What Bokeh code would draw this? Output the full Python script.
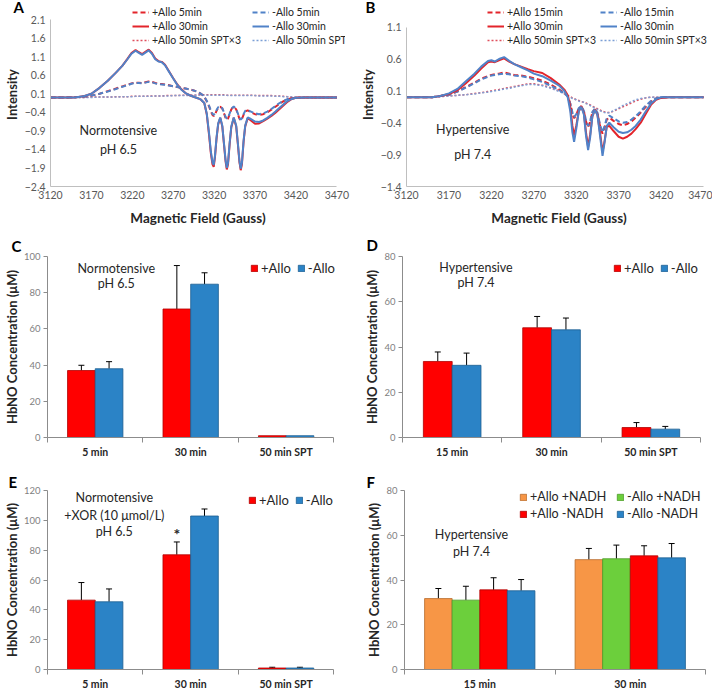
import math
from bokeh.plotting import figure
from bokeh.layouts import column, row
from bokeh.models import (Range1d, FixedTicker, Label, Legend, LegendItem,
                          Whisker, TeeHead, ColumnDataSource)
from bokeh.embed import file_html
from bokeh.resources import INLINE

FONT = "Lato"
TXT = "#262626"
TICK = "#595959"
AXIS = "#BFBFBF"
RED_LINE = "#E3242B"
BLUE_LINE = "#5082C8"

# ---------------- Panel A data (Normotensive, pH 6.5) ----------------
A_field = [3120, 3140, 3150, 3160, 3170, 3180, 3190, 3200, 3208, 3214,
           3219, 3224, 3228, 3232, 3236, 3240, 3244, 3248, 3252, 3256,
           3260, 3265, 3270, 3275, 3280, 3285, 3290, 3295, 3300, 3304,
           3308, 3311, 3314, 3316, 3318, 3319.5, 3321, 3323, 3325, 3327.5,
           3330, 3332, 3334, 3335.5, 3337, 3339, 3341, 3344, 3347, 3349,
           3351, 3352.5, 3354, 3356, 3358, 3361, 3365, 3370, 3375, 3380,
           3385, 3390, 3395, 3400, 3405, 3410, 3415, 3420, 3430, 3450, 3470]
A_plus_30 = [0.0, 0.0, 0.0, 0.03, 0.1, 0.26, 0.45, 0.67, 0.86, 1.04,
             1.2, 1.28, 1.22, 1.17, 1.23, 1.29, 1.2, 1.05, 0.98, 0.96,
             0.88, 0.7, 0.52, 0.35, 0.22, 0.12, 0.06, 0.02, -0.02, -0.06,
             -0.15, -0.45, -1.05, -1.5, -1.8, -1.87, -1.62, -1.1, -0.72, -0.55,
             -0.78, -1.25, -1.72, -1.94, -1.8, -1.25, -0.8, -0.55, -0.78, -1.25,
             -1.75, -1.96, -1.8, -1.2, -0.78, -0.56, -0.62, -0.71, -0.7, -0.64,
             -0.57, -0.5, -0.41, -0.31, -0.21, -0.11, -0.04, -0.01, 0.0, 0.0, 0.0]
A_minus_30 = [0.0, 0.0, 0.0, 0.03, 0.1, 0.26, 0.45, 0.67, 0.86, 1.03,
              1.18, 1.26, 1.2, 1.15, 1.21, 1.27, 1.18, 1.03, 0.97, 0.95,
              0.87, 0.69, 0.51, 0.34, 0.21, 0.12, 0.06, 0.02, -0.02, -0.06,
              -0.15, -0.43, -1.0, -1.45, -1.75, -1.82, -1.58, -1.07, -0.7, -0.54,
              -0.76, -1.22, -1.68, -1.9, -1.76, -1.22, -0.78, -0.54, -0.76, -1.22,
              -1.72, -1.92, -1.76, -1.17, -0.76, -0.54, -0.58, -0.65, -0.66, -0.62,
              -0.55, -0.47, -0.38, -0.28, -0.18, -0.09, -0.04, -0.01, 0.0, 0.0, 0.0]
A_plus_5 = [0.0, 0.0, 0.01, 0.02, 0.05, 0.1, 0.17, 0.24, 0.3, 0.34,
            0.38, 0.4, 0.4, 0.39, 0.41, 0.43, 0.42, 0.39, 0.37, 0.36,
            0.35, 0.33, 0.3, 0.28, 0.26, 0.24, 0.22, 0.19, 0.15, 0.1,
            0.02, -0.1, -0.25, -0.38, -0.47, -0.5, -0.46, -0.36, -0.28, -0.25,
            -0.3, -0.42, -0.55, -0.6, -0.57, -0.45, -0.32, -0.25, -0.32, -0.45,
            -0.57, -0.62, -0.58, -0.47, -0.38, -0.35, -0.4, -0.45, -0.47, -0.45,
            -0.4, -0.33, -0.25, -0.17, -0.1, -0.05, -0.02, -0.01, 0.0, 0.0, 0.0]
A_minus_5 = [0.0, 0.0, 0.01, 0.02, 0.05, 0.1, 0.16, 0.23, 0.29, 0.33,
             0.37, 0.39, 0.39, 0.38, 0.4, 0.42, 0.41, 0.38, 0.36, 0.35,
             0.34, 0.32, 0.3, 0.28, 0.26, 0.24, 0.22, 0.19, 0.15, 0.1,
             0.02, -0.09, -0.23, -0.35, -0.44, -0.47, -0.43, -0.34, -0.26, -0.24,
             -0.29, -0.4, -0.52, -0.57, -0.54, -0.43, -0.31, -0.24, -0.31, -0.43,
             -0.55, -0.6, -0.56, -0.45, -0.36, -0.34, -0.38, -0.43, -0.45, -0.43,
             -0.38, -0.31, -0.23, -0.15, -0.09, -0.04, -0.02, -0.01, 0.0, 0.0, 0.0]
A_plus_50spt = [0.0, 0.0, 0.0, 0.0, 0.01, 0.01, 0.01, 0.02, 0.02, 0.02,
                0.03, 0.03, 0.03, 0.03, 0.03, 0.04, 0.04, 0.04, 0.04, 0.04,
                0.05, 0.05, 0.05, 0.05, 0.06, 0.06, 0.06, 0.06, 0.07, 0.07,
                0.07, 0.07, 0.07, 0.07, 0.07, 0.07, 0.07, 0.07, 0.07, 0.07,
                0.07, 0.07, 0.06, 0.06, 0.06, 0.06, 0.06, 0.06, 0.06, 0.06,
                0.06, 0.06, 0.06, 0.06, 0.06, 0.06, 0.06, 0.05, 0.05, 0.05,
                0.05, 0.05, 0.04, 0.04, 0.03, 0.02, 0.01, 0.0, 0.0, 0.0, 0.0]
A_minus_50spt = [0.0, 0.0, 0.0, 0.0, 0.0, 0.01, 0.01, 0.01, 0.02, 0.02,
                 0.02, 0.03, 0.03, 0.03, 0.03, 0.03, 0.03, 0.04, 0.04, 0.04,
                 0.04, 0.04, 0.05, 0.05, 0.05, 0.05, 0.05, 0.06, 0.06, 0.06,
                 0.06, 0.06, 0.06, 0.06, 0.06, 0.06, 0.06, 0.06, 0.06, 0.06,
                 0.06, 0.06, 0.06, 0.06, 0.05, 0.05, 0.05, 0.05, 0.05, 0.05,
                 0.05, 0.05, 0.05, 0.05, 0.05, 0.05, 0.05, 0.05, 0.04, 0.04,
                 0.04, 0.04, 0.03, 0.03, 0.02, 0.02, 0.01, 0.0, 0.0, 0.0, 0.0]
A_xticks = [3120, 3170, 3220, 3270, 3320, 3370, 3420, 3470]
A_yticks = [-2.4, -1.9, -1.4, -0.9, -0.4, 0.1, 0.6, 1.1, 1.6, 2.1]
A_labels_plus = ["+Allo 5min", "+Allo 30min", "+Allo 50min SPT\u00d73"]
A_labels_minus = ["-Allo 5min", "-Allo 30min", "-Allo 50min SPT\u00d73"]

# ---------------- Panel B data (Hypertensive, pH 7.4) ----------------
B_field = [3120, 3140, 3150, 3160, 3170, 3180, 3190, 3200, 3208, 3216,
           3220, 3224, 3229, 3235, 3241, 3247, 3255, 3263, 3270, 3280,
           3290, 3300, 3306, 3310, 3313, 3315.5, 3317.5, 3320, 3323, 3326,
           3329, 3331.5, 3334, 3336.5, 3339, 3342, 3345, 3348, 3351, 3353.5,
           3356, 3359, 3364, 3370, 3375, 3380, 3385, 3390, 3396, 3402,
           3408, 3414, 3420, 3430, 3450, 3470]
B_plus_30 = [0.0, 0.0, 0.0, 0.02, 0.05, 0.11, 0.22, 0.34, 0.45, 0.55,
             0.56, 0.55, 0.58, 0.61, 0.56, 0.52, 0.48, 0.44, 0.41, 0.38,
             0.3, 0.2, 0.12, 0.03, -0.15, -0.45, -0.6, -0.45, -0.22, -0.15,
             -0.25, -0.55, -0.78, -0.58, -0.3, -0.2, -0.27, -0.55, -0.86, -0.68,
             -0.46, -0.45, -0.53, -0.62, -0.65, -0.62, -0.57, -0.5, -0.4, -0.26,
             -0.12, -0.04, -0.01, 0.0, 0.0, 0.0]
B_minus_30 = [0.0, 0.0, 0.0, 0.02, 0.06, 0.13, 0.25, 0.37, 0.48, 0.57,
              0.58, 0.56, 0.6, 0.63, 0.57, 0.52, 0.47, 0.42, 0.37, 0.33,
              0.26, 0.18, 0.1, 0.0, -0.22, -0.55, -0.7, -0.5, -0.22, -0.15,
              -0.27, -0.6, -0.83, -0.62, -0.3, -0.2, -0.28, -0.6, -0.92, -0.7,
              -0.45, -0.4, -0.47, -0.54, -0.56, -0.55, -0.51, -0.45, -0.35, -0.22,
              -0.1, -0.03, 0.0, 0.0, 0.0, 0.0]
B_plus_15 = [0.0, 0.0, 0.0, 0.02, 0.04, 0.09, 0.16, 0.23, 0.29, 0.33,
             0.35, 0.36, 0.37, 0.39, 0.37, 0.35, 0.34, 0.32, 0.3, 0.26,
             0.2, 0.12, 0.07, 0.02, -0.1, -0.25, -0.33, -0.28, -0.17, -0.14,
             -0.22, -0.38, -0.47, -0.38, -0.24, -0.19, -0.25, -0.45, -0.57, -0.47,
             -0.35, -0.32, -0.37, -0.42, -0.44, -0.42, -0.38, -0.32, -0.24, -0.15,
             -0.07, -0.02, 0.0, 0.0, 0.0, 0.0]
B_minus_15 = [0.0, 0.0, 0.0, 0.02, 0.04, 0.09, 0.15, 0.22, 0.28, 0.32,
              0.34, 0.35, 0.36, 0.37, 0.36, 0.34, 0.33, 0.31, 0.28, 0.24,
              0.18, 0.11, 0.06, 0.01, -0.1, -0.24, -0.31, -0.27, -0.17, -0.14,
              -0.21, -0.36, -0.45, -0.37, -0.23, -0.18, -0.24, -0.43, -0.55, -0.45,
              -0.33, -0.29, -0.33, -0.38, -0.4, -0.39, -0.35, -0.3, -0.22, -0.13,
              -0.06, -0.02, 0.0, 0.0, 0.0, 0.0]
B_plus_50spt = [0.0, 0.0, 0.0, 0.01, 0.02, 0.03, 0.04, 0.06, 0.07, 0.09,
                0.1, 0.11, 0.12, 0.14, 0.15, 0.17, 0.19, 0.21, 0.21, 0.19,
                0.15, 0.1, 0.06, 0.03, 0.01, -0.01, -0.02, -0.04, -0.05, -0.07,
                -0.08, -0.09, -0.11, -0.12, -0.14, -0.16, -0.18, -0.2, -0.22, -0.23,
                -0.24, -0.24, -0.22, -0.18, -0.15, -0.12, -0.09, -0.06, -0.03, -0.01,
                0.0, 0.0, 0.0, 0.0, 0.0, 0.0]
B_minus_50spt = [0.0, 0.0, 0.0, 0.01, 0.02, 0.03, 0.04, 0.05, 0.07, 0.08,
                 0.09, 0.1, 0.11, 0.13, 0.14, 0.16, 0.18, 0.2, 0.2, 0.18,
                 0.14, 0.09, 0.05, 0.02, 0.0, -0.02, -0.03, -0.04, -0.06, -0.07,
                 -0.08, -0.1, -0.11, -0.13, -0.15, -0.17, -0.19, -0.21, -0.23, -0.24,
                 -0.25, -0.24, -0.21, -0.17, -0.13, -0.1, -0.07, -0.04, -0.02, -0.01,
                 0.0, 0.0, 0.0, 0.0, 0.0, 0.0]
B_xticks = [3120, 3170, 3220, 3270, 3320, 3370, 3420, 3470]
B_yticks = [-1.4, -0.9, -0.4, 0.1, 0.6, 1.1]
B_labels_plus = ["+Allo 15min", "+Allo 30min", "+Allo 50min SPT\u00d73"]
B_labels_minus = ["-Allo 15min", "-Allo 30min", "-Allo 50min SPT\u00d73"]

# ---------------- Bar panel data ----------------
C_cats = ["5 min", "30 min", "50 min SPT"]
C_plus = [37.0, 71.0, 1.0]
C_plus_err = [2.9, 24.0, 0.0]
C_minus = [38.0, 84.7, 1.0]
C_minus_err = [3.9, 6.3, 0.0]
C_yticks = [0, 20, 40, 60, 80, 100]

D_cats = ["15 min", "30 min", "50 min SPT"]
D_plus = [33.6, 48.5, 4.4]
D_plus_err = [4.2, 5.0, 2.2]
D_minus = [31.9, 47.6, 3.7]
D_minus_err = [5.4, 5.2, 1.2]
D_yticks = [0, 20, 40, 60, 80]

E_cats = ["5 min", "30 min", "50 min SPT"]
E_plus = [46.5, 76.9, 1.0]
E_plus_err = [11.8, 8.6, 0.5]
E_minus = [45.4, 102.9, 1.0]
E_minus_err = [8.6, 4.7, 0.5]
E_yticks = [0, 20, 40, 60, 80, 100, 120]

F_cats = ["15 min", "30 min"]
F_plus_nadh = [31.7, 49.1]
F_plus_nadh_err = [4.5, 5.0]
F_minus_nadh_plus = [31.0, 49.5]
F_minus_nadh_plus_err = [6.2, 6.1]
F_plus_no_nadh = [35.6, 50.8]
F_plus_no_nadh_err = [5.4, 4.5]
F_minus_no_nadh = [35.2, 49.9]
F_minus_no_nadh_err = [5.0, 6.4]
F_yticks = [0, 20, 40, 60, 80]
F_names = ["+Allo +NADH", "-Allo +NADH", "+Allo -NADH", "-Allo -NADH"]


def base_fig(w, h, xr, yr, ml, mr, mt, mb, letter, offset, standoff):
    p = figure(width=w, height=h, x_range=xr, y_range=yr, title=letter,
               output_backend="svg", toolbar_location=None,
               min_border_left=ml, min_border_right=mr,
               min_border_top=mt, min_border_bottom=mb)
    p.outline_line_color = None
    p.xgrid.visible = False
    p.ygrid.visible = False
    p.background_fill_color = "white"
    p.border_fill_color = "white"
    p.title.align = "left"
    p.title.offset = offset
    p.title.standoff = standoff
    p.title.text_font = FONT
    p.title.text_font_size = "15px"
    p.title.text_font_style = "bold"
    p.title.text_color = "black"
    for ax in (p.xaxis[0], p.yaxis[0]):
        ax.axis_line_color = AXIS
        ax.major_tick_line_color = AXIS
        ax.minor_tick_line_color = AXIS
        ax.major_tick_out = 0
        ax.major_tick_in = 0
        ax.minor_tick_out = 0
        ax.minor_tick_in = 0
        ax.major_label_text_font = FONT
        ax.major_label_text_color = TICK
        ax.major_label_text_font_size = "10.5px"
        ax.major_label_standoff = 4
        ax.axis_label_text_font = FONT
        ax.axis_label_text_font_style = "bold"
        ax.axis_label_text_color = TXT
    return p


def add_text(p, text, x, y, size="12px", bold=False, color=TXT):
    p.add_layout(Label(x=x, y=y, text=text, text_font=FONT, text_font_size=size,
                       text_font_style="bold" if bold else "normal",
                       text_align="center", text_baseline="middle",
                       text_color=color))


def make_legend(items, loc, orientation="vertical", gw=17, gh=12, size="10.5px",
                lh=13, spacing=1, standoff=3):
    return Legend(items=items, location=loc, orientation=orientation,
                  glyph_width=gw, glyph_height=gh, label_height=lh,
                  spacing=spacing, padding=0, margin=0,
                  label_standoff=standoff, label_text_font=FONT,
                  label_text_font_size=size, label_text_color=TXT,
                  border_line_color=None, background_fill_alpha=0)


def spectrum(w, field, curves, labels_plus, labels_minus, xr, yr, ybounds,
             xticks, yticks, ml, mr, letter, offset, leg_x1, leg_x2, notes):
    p = base_fig(w, 230, Range1d(*xr), Range1d(*yr), ml, mr, 2, 44,
                 letter, offset, -26)
    p.xaxis.ticker = FixedTicker(ticks=xticks)
    p.xaxis.bounds = (xticks[0], xticks[-1])
    p.yaxis.ticker = FixedTicker(ticks=yticks)
    p.yaxis.bounds = ybounds
    p.yaxis.major_label_standoff = 5
    p.xaxis.axis_label = "Magnetic Field (Gauss)"
    p.xaxis.axis_label_text_font_size = "13.5px"
    p.xaxis.axis_label_standoff = 8
    p.yaxis.axis_label = "Intensity"
    p.yaxis.axis_label_text_font_size = "13px"
    p.yaxis.axis_label_standoff = 2
    pe, me, p30, m30, pspt, mspt = curves
    r_pspt = p.line(field, pspt, line_color="#E0505E", line_width=1.5, line_dash="2 2")
    r_mspt = p.line(field, mspt, line_color="#7C9FD6", line_width=1.5, line_dash="2 2")
    r_pe = p.line(field, pe, line_color=RED_LINE, line_width=2, line_dash="5 3")
    r_me = p.line(field, me, line_color=BLUE_LINE, line_width=2, line_dash="5 3")
    r_p30 = p.line(field, p30, line_color=RED_LINE, line_width=2)
    r_m30 = p.line(field, m30, line_color=BLUE_LINE, line_width=2)
    l1 = make_legend([LegendItem(label=labels_plus[0], renderers=[r_pe]),
                      LegendItem(label=labels_plus[1], renderers=[r_p30]),
                      LegendItem(label=labels_plus[2], renderers=[r_pspt])],
                     (leg_x1, 140))
    l2 = make_legend([LegendItem(label=labels_minus[0], renderers=[r_me]),
                      LegendItem(label=labels_minus[1], renderers=[r_m30]),
                      LegendItem(label=labels_minus[2], renderers=[r_mspt])],
                     (leg_x2, 140))
    p.add_layout(l1)
    p.add_layout(l2)
    for t, x, y in notes:
        add_text(p, t, x, y, size="12.5px")
    return p


def bar_panel(w, h, cats, series, errs, names, fills, edges, bw, offsets,
              xend, ytop, ymax, yticks, ml, mr, mt, mb, letter, offset, standoff,
              legends, notes):
    n = len(cats)
    p = base_fig(w, h, Range1d(0, xend), Range1d(0, ytop), ml, mr, mt, mb,
                 letter, offset, standoff)
    centers = [i + 0.5 for i in range(n)]
    p.xaxis.ticker = FixedTicker(ticks=centers, minor_ticks=list(range(n + 1)))
    p.xaxis.bounds = (0, n)
    p.xaxis.major_label_overrides = {c: s for c, s in zip(centers, cats)}
    p.xaxis.minor_tick_out = 5
    p.xaxis.axis_line_color = "#8C8C8C"
    p.xaxis.minor_tick_line_color = "#8C8C8C"
    p.xaxis.major_label_text_font_style = "bold"
    p.xaxis.major_label_text_color = TXT
    p.xaxis.major_label_text_font_size = "10.5px"
    p.xaxis.major_label_standoff = 3
    p.yaxis.ticker = FixedTicker(ticks=yticks)
    p.yaxis.bounds = (0, ymax)
    p.yaxis.major_tick_out = 4
    p.yaxis.axis_line_color = "#8C8C8C"
    p.yaxis.major_tick_line_color = "#8C8C8C"
    p.yaxis.major_label_text_font_size = "9.5px"
    p.yaxis.major_label_text_color = "#7F7F7F"
    p.yaxis.major_label_standoff = 3
    p.yaxis.axis_label = "HbNO Concentration (\u03bcM)"
    p.yaxis.axis_label_text_font_size = "13px"
    p.yaxis.axis_label_standoff = 1
    rends = []
    for vals, er, fc, lc, off in zip(series, errs, fills, edges, offsets):
        xs = [c + off for c in centers]
        src = ColumnDataSource(dict(x=xs, top=vals))
        r = p.vbar(x="x", top="top", bottom=0, width=bw, source=src,
                   fill_color=fc, line_color=lc, line_width=0.8)
        rends.append(r)
        wx = [x for x, e in zip(xs, er) if e > 0]
        wl = [v for v, e in zip(vals, er) if e > 0]
        wu = [v + e for v, e in zip(vals, er) if e > 0]
        wsrc = ColumnDataSource(dict(x=wx, lower=wl, upper=wu))
        p.add_layout(Whisker(source=wsrc, base="x", lower="lower", upper="upper",
                             dimension="height", line_color="black", line_width=1,
                             upper_head=TeeHead(size=6, line_color="black", line_width=1),
                             lower_head=None))
    for idxs, loc, orient, size in legends:
        items = [LegendItem(label=names[i], renderers=[rends[i]]) for i in idxs]
        p.add_layout(make_legend(items, loc, orientation=orient, gw=8, gh=8,
                                 size=size, lh=14,
                                 spacing=6 if orient == "horizontal" else 2,
                                 standoff=3))
    for t, x, y, sz, bold in notes:
        add_text(p, t, x, y, size=sz, bold=bold)
    return p


pA = spectrum(356, A_field,
              (A_plus_5, A_minus_5, A_plus_30, A_minus_30, A_plus_50spt, A_minus_50spt),
              A_labels_plus, A_labels_minus, (3120, 3480.6), (-2.4, 2.56), (-2.4, 2.1),
              A_xticks, A_yticks, 40, 11, "A", -37, 82, 202,
              [("Normotensive", 3203, -0.88), ("pH 6.5", 3203, -1.39)])

pB = spectrum(356, B_field,
              (B_plus_15, B_minus_15, B_plus_30, B_minus_30, B_plus_50spt, B_minus_50spt),
              B_labels_plus, B_labels_minus, (3120, 3479.4), (-1.4, 1.486), (-1.4, 1.1),
              B_xticks, B_yticks, 49, 1, "B", -41, 81, 194,
              [("Hypertensive", 3198, -0.5), ("pH 7.4", 3198, -0.9)])

RED_BAR, RED_EDGE = "#FF0000", "#B00000"
BLUE_BAR, BLUE_EDGE = "#2B83C6", "#1D5E90"
ORANGE_BAR, ORANGE_EDGE = "#F79646", "#B86B2C"
GREEN_BAR, GREEN_EDGE = "#6CCF3C", "#4C9A28"

pC = bar_panel(356, 230, C_cats, [C_plus, C_minus], [C_plus_err, C_minus_err],
               ["+Allo", "-Allo"], [RED_BAR, BLUE_BAR], [RED_EDGE, BLUE_EDGE],
               0.29, [-0.145, 0.145], 3.174, 100, 100, C_yticks, 39, 6, 26, 18,
               "C", -36, 3,
               [([0, 1], (203, 161), "horizontal", "13px")],
               [("Normotensive", 0.72, 93.5, "12.5px", False),
                ("pH 6.5", 0.72, 84.9, "12.5px", False)])

pD = bar_panel(356, 230, D_cats, [D_plus, D_minus], [D_plus_err, D_minus_err],
               ["+Allo", "-Allo"], [RED_BAR, BLUE_BAR], [RED_EDGE, BLUE_EDGE],
               0.29, [-0.145, 0.145], 3.1, 80, 80, D_yticks, 46, 2, 26, 18,
               "D", -36, 5,
               [([0, 1], (211, 161), "horizontal", "13px")],
               [("Hypertensive", 0.74, 75.3, "12.5px", False),
                ("pH 7.4", 0.74, 68.4, "12.5px", False)])

pE = bar_panel(356, 232, E_cats, [E_plus, E_minus], [E_plus_err, E_minus_err],
               ["+Allo", "-Allo"], [RED_BAR, BLUE_BAR], [RED_EDGE, BLUE_EDGE],
               0.29, [-0.145, 0.145], 3.175, 120, 120, E_yticks, 42, 6, 30, 19,
               "E", -39, 0,
               [([0, 1], (201, 161), "horizontal", "13px")],
               [("Normotensive", 0.70, 115, "12.5px", False),
                ("+XOR (10 \u03bcmol/L)", 0.70, 103.5, "12.5px", False),
                ("pH 6.5", 0.70, 92.5, "12.5px", False),
                ("*", 1.355, 91.5, "16px", True)])

pF = bar_panel(356, 232, F_cats,
               [F_plus_nadh, F_minus_nadh_plus, F_plus_no_nadh, F_minus_no_nadh],
               [F_plus_nadh_err, F_minus_nadh_plus_err, F_plus_no_nadh_err, F_minus_no_nadh_err],
               F_names, [ORANGE_BAR, GREEN_BAR, RED_BAR, BLUE_BAR],
               [ORANGE_EDGE, GREEN_EDGE, RED_EDGE, BLUE_EDGE],
               0.183, [-0.275, -0.092, 0.092, 0.275], 2, 80, 80, F_yticks, 48, 7, 30, 19,
               "F", -38, 0,
               [([0, 2], (115, 148), "vertical", "12.5px"),
                ([1, 3], (212, 148), "vertical", "12.5px")],
               [("Hypertensive", 0.445, 60.2, "12.5px", False),
                ("pH 7.4", 0.445, 52.8, "12.5px", False)])

layout = column(row(pA, pB), row(pC, pD), row(pE, pF))
open("out.html", "w").write(file_html(layout, INLINE))
